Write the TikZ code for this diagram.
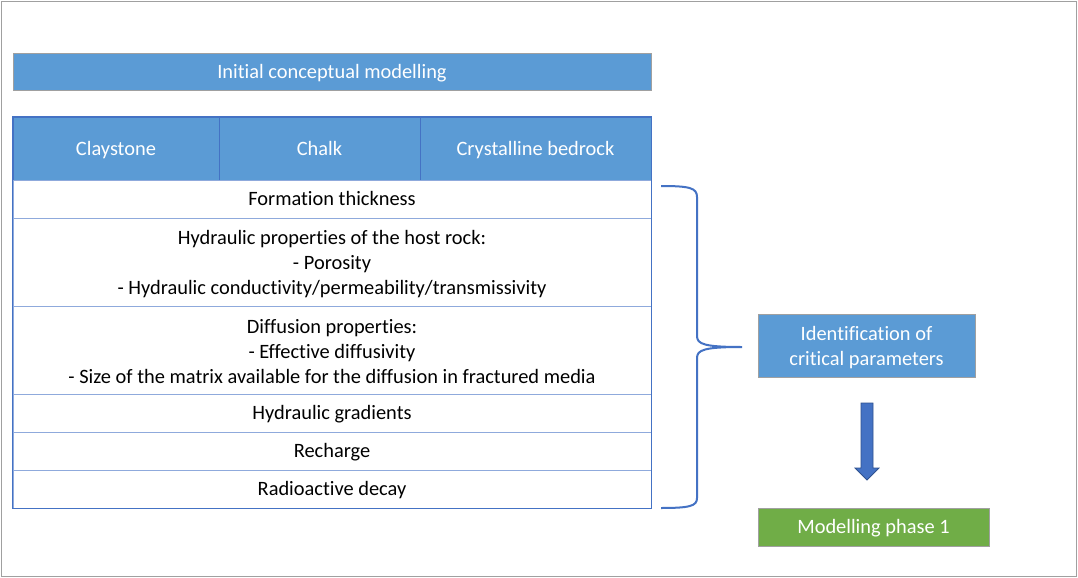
\documentclass[tikz,border=0pt]{standalone}
\usepackage{fontspec}
\setmainfont{Carlito}[Ligatures=NoCommon]
\definecolor{fillblue}{HTML}{5B9BD5}
\definecolor{lineblue}{HTML}{4472C4}
\definecolor{lightline}{HTML}{8FAADC}
\definecolor{grn}{HTML}{70AD47}
\definecolor{frame}{HTML}{A0A0A0}
\definecolor{darkarrow}{HTML}{2F528F}
\tikzset{
  txt/.style={font=\fontsize{15.3}{18.75}\selectfont, align=center, inner sep=0pt},
  oneline/.style={text height=10.7pt, text depth=3.5pt},
  wtxt/.style={txt, text=white},
  btxt/.style={txt, text=black},
  bluebox/.style={fill=fillblue, draw=frame, line width=0.75pt, inner sep=0pt},
  greenbox/.style={fill=grn, draw=frame, line width=0.75pt, inner sep=0pt},
  headcell/.style={fill=fillblue, draw=lineblue, line width=0.6pt, inner sep=0pt, minimum height=47.25pt},
  rowcell/.style={fill=white, draw=lightline, line width=0.75pt, inner sep=0pt, minimum width=478.5pt},
  bracestyle/.style={draw=lineblue, line width=1.5pt},
  blockarrow/.style={fill=lineblue, draw=darkarrow, line width=0.6pt, line join=miter},
}
\newcommand{\boxtext}[3]{\node[#1] (#2t) at ([yshift=-1.5pt]#2.center) {#3};}
\begin{document}
\begin{tikzpicture}[x=0.75pt,y=-0.75pt]
\fill[white] (0,0) rectangle (1078,578);
\draw[frame, line width=1.2pt] (1.5,1.5) rectangle (1076.5,576.5);
\node[bluebox, minimum width=478.5pt, minimum height=27.75pt] (init) at (332,71.5) {};
\boxtext{wtxt,oneline}{init}{Initial conceptual modelling}
% header
\node[headcell, minimum width=154.5pt] (clay) at (116,148.5) {};
\node[headcell, minimum width=150.75pt] (chalk) at (319.5,148.5) {};
\node[headcell, minimum width=173.25pt] (cryst) at (535.5,148.5) {};
\boxtext{wtxt,oneline}{clay}{Claystone}
\boxtext{wtxt,oneline}{chalk}{Chalk}
\boxtext{wtxt,oneline}{cryst}{Crystalline bedrock}
% rows
\node[rowcell, minimum height=28.5pt] (r1) at (332,199) {};
\node[rowcell, minimum height=66pt] (r2) at (332,262) {};
\node[rowcell, minimum height=66pt] (r3) at (332,350) {};
\node[rowcell, minimum height=28.5pt] (r4) at (332,413) {};
\node[rowcell, minimum height=28.5pt] (r5) at (332,451) {};
\node[rowcell, minimum height=28.5pt] (r6) at (332,489) {};
\boxtext{btxt,oneline}{r1}{Formation thickness}
\boxtext{btxt}{r2}{Hydraulic properties of the host rock:\\- Porosity\\- Hydraulic conductivity/permeability/transmissivity}
\boxtext{btxt}{r3}{Diffusion properties:\\- Effective diffusivity\\- Size of the matrix available for the diffusion in fractured media}
\boxtext{btxt,oneline}{r4}{Hydraulic gradients}
\boxtext{btxt,oneline}{r5}{Recharge}
\boxtext{btxt,oneline}{r6}{Radioactive decay}
\draw[lineblue, line width=0.75pt] (clay.north west) rectangle (r6.south east);
% right side
\node[bluebox, minimum width=162.75pt, minimum height=47.25pt] (ident) at (866.5,345.5) {};
\boxtext{wtxt}{ident}{Identification of\\critical parameters}
\node[greenbox, minimum width=173.25pt, minimum height=28.5pt] (model) at (873.5,527) {};
\boxtext{wtxt,oneline}{model}{Modelling phase 1}
% block arrow
\coordinate (atop) at (867,403);
\coordinate (atip) at (867,480);
\draw[blockarrow] ([xshift=-4.5pt]atop) -- ([xshift=4.5pt]atop) -- ([xshift=4.5pt,yshift=9pt]atip)
  -- ([xshift=9pt,yshift=9pt]atip) -- (atip) -- ([xshift=-9pt,yshift=9pt]atip)
  -- ([xshift=-4.5pt,yshift=9pt]atip) -- cycle;
% brace
\coordinate (btop) at (661,186);
\coordinate (bbot) at (661,508);
\coordinate (btip) at (742,347);
\draw[bracestyle] (btop) .. controls (690,186) and (697,188) .. (697,197) -- (697,336)
  .. controls (697,344) and (704,347) .. (btip)
  .. controls (704,347) and (697,350) .. (697,358) -- (697,498)
  .. controls (697,506) and (690,508) .. (bbot);
\end{tikzpicture}
\end{document}
